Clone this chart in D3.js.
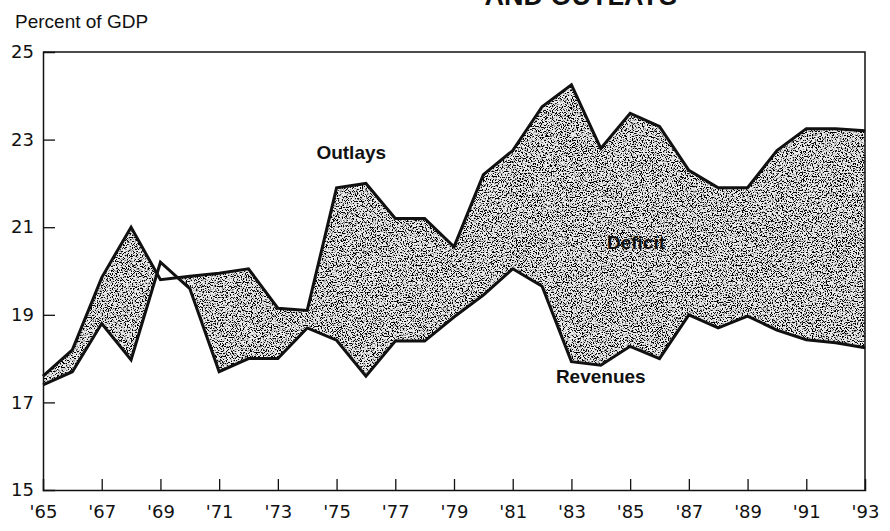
<!DOCTYPE html>
<html>
<head>
<meta charset="utf-8">
<script src="https://cdn.jsdelivr.net/npm/d3@7"></script>
<style>
  body { margin: 0; background: #fff; }
  svg { display: block; }
  .tick-label { font-family: "DejaVu Sans", sans-serif; font-size: 18px; fill: #111; }
  .series-label { font-family: "Liberation Sans", Arial, sans-serif; font-weight: bold; font-size: 19px; fill: #111; }
</style>
</head>
<body>
<div id="chart"></div>
<script>
/* DATA */
const years = d3.range(1965, 1994);

const outlays = [
  17.6, 18.2, 19.85, 21.0, 19.8, 19.88, 19.95, 20.05, 19.15, 19.1,
  21.9, 22.0, 21.2, 21.2, 20.55, 22.2, 22.75, 23.75, 24.25, 22.8,
  23.6, 23.3, 22.3, 21.9, 21.9, 22.75, 23.25, 23.25, 23.2
];

const revenues = [
  17.4, 17.7, 18.8, 17.97, 20.2, 19.6, 17.7, 18.0, 18.0, 18.7,
  18.42, 17.6, 18.4, 18.4, 18.95, 19.45, 20.05, 19.65, 17.93, 17.85,
  18.28, 18.0, 19.0, 18.7, 18.97, 18.65, 18.43, 18.36, 18.25
];

const yTicks = [15, 17, 19, 21, 23, 25];
const xTicks = d3.range(1965, 1994, 2);

const seriesLabels = [
  { text: "Outlays", year: 1975.5, value: 22.55 },
  { text: "Deficit", year: 1985.2, value: 20.5 },
  { text: "Revenues", year: 1984.0, value: 17.45 }
];

/* CONSTANTS */
const width = 890,
  height = 531,
  margin = { top: 52, bottom: 41, left: 43, right: 25 };

const svg = d3.select("#chart")
  .append("svg")
    .attr("width", width)
    .attr("height", height);

const xScale = d3.scaleLinear()
  .domain([1965, 1993])
  .range([margin.left, width - margin.right]);

const yScale = d3.scaleLinear()
  .domain([15, 25])
  .range([height - margin.bottom, margin.top]);

const data = years.map((yr, i) => ({ year: yr, out: outlays[i], rev: revenues[i] }));

// stipple texture for the deficit band
const defs = svg.append("defs");
const filter = defs.append("filter")
  .attr("id", "stipple")
  .attr("x", 0).attr("y", 0).attr("width", 1).attr("height", 1);
filter.append("feTurbulence")
  .attr("type", "fractalNoise")
  .attr("baseFrequency", 0.8)
  .attr("numOctaves", 2)
  .attr("seed", 7)
  .attr("result", "noise");
filter.append("feColorMatrix")
  .attr("in", "noise")
  .attr("type", "matrix")
  .attr("values", "0 0 0 0 0  0 0 0 0 0  0 0 0 0 0  -8 0 0 0 4.2")
  .attr("result", "dots");
filter.append("feComposite")
  .attr("in", "dots")
  .attr("in2", "SourceGraphic")
  .attr("operator", "in")
  .attr("result", "dotsIn");
const merge = filter.append("feMerge");
merge.append("feMergeNode").attr("in", "SourceGraphic");
merge.append("feMergeNode").attr("in", "dotsIn");

// clip: everything above the revenues line
defs.append("clipPath")
  .attr("id", "aboveRev")
  .append("path")
    .attr("d", d3.area()
      .x(d => xScale(d.year))
      .y0(yScale(25))
      .y1(d => yScale(d.rev))(data));

// the band: below outlays, clipped to above revenues
svg.append("path")
  .datum(data)
  .attr("clip-path", "url(#aboveRev)")
  .attr("fill", "#ececec")
  .attr("filter", "url(#stipple)")
  .attr("d", d3.area()
    .x(d => xScale(d.year))
    .y0(yScale(15))
    .y1(d => yScale(d.out)));

// frame
svg.append("path")
  .attr("fill", "none")
  .attr("stroke", "#111")
  .attr("stroke-width", 1.5)
  .attr("d", `M${xScale(1965)},${yScale(25)}H${xScale(1993)}V${yScale(15)}`);

// x axis, ticks pointing up into the plot
const xAxis = d3.axisBottom(xScale)
  .tickValues(xTicks)
  .tickSize(-11)
  .tickPadding(15)
  .tickFormat(d => "'" + String(d).slice(2));

svg.append("g")
  .attr("class", "x-axis")
  .attr("transform", `translate(0,${yScale(15)})`)
  .call(xAxis)
  .call(g => g.select(".domain").attr("stroke", "#111").attr("stroke-width", 1.5))
  .call(g => g.selectAll(".tick line").attr("stroke", "#111").attr("stroke-width", 1.3))
  .call(g => g.selectAll(".tick text").attr("class", "tick-label").attr("font-size", null).attr("font-family", null));

// y axis, ticks pointing right into the plot
const yAxis = d3.axisLeft(yScale)
  .tickValues(yTicks)
  .tickSize(-12)
  .tickPadding(9);

svg.append("g")
  .attr("class", "y-axis")
  .attr("transform", `translate(${margin.left},0)`)
  .call(yAxis)
  .call(g => g.select(".domain").attr("stroke", "#111").attr("stroke-width", 1.5))
  .call(g => g.selectAll(".tick line").attr("stroke", "#111").attr("stroke-width", 1.3))
  .call(g => g.selectAll(".tick text").attr("class", "tick-label").attr("font-size", null).attr("font-family", null));

// drop ticks that fall on the frame corners
svg.selectAll(".x-axis .tick line").filter(d => d === 1965 || d === 1993).remove();
svg.selectAll(".y-axis .tick line").filter(d => d === 15 || d === 25).remove();

// the two series lines
const lineGen = key => d3.line()
  .x(d => xScale(d.year))
  .y(d => yScale(d[key]));

svg.append("path")
  .datum(data)
  .attr("fill", "none")
  .attr("stroke", "#111")
  .attr("stroke-width", 3)
  .attr("stroke-linejoin", "miter")
  .attr("d", lineGen("out"));

svg.append("path")
  .datum(data)
  .attr("fill", "none")
  .attr("stroke", "#111")
  .attr("stroke-width", 3)
  .attr("stroke-linejoin", "miter")
  .attr("d", lineGen("rev"));

// labels
svg.selectAll(".series-label")
  .data(seriesLabels)
  .join("text")
    .attr("class", "series-label")
    .attr("x", d => xScale(d.year))
    .attr("y", d => yScale(d.value))
    .attr("text-anchor", "middle")
    .text(d => d.text);

// y axis title
svg.append("text")
  .attr("x", 15)
  .attr("y", 28)
  .attr("font-family", "Liberation Sans, Arial, sans-serif")
  .attr("font-size", 19)
  .attr("fill", "#111")
  .text("Percent of GDP");

// chart title (only its lower edge survives the crop)
svg.append("text")
  .attr("x", 677)
  .attr("y", 5)
  .attr("text-anchor", "end")
  .attr("font-family", "Liberation Sans, Arial, sans-serif")
  .attr("font-weight", "bold")
  .attr("font-size", 27)
  .attr("fill", "#111")
  .text("AND OUTLAYS");
</script>
</body>
</html>
